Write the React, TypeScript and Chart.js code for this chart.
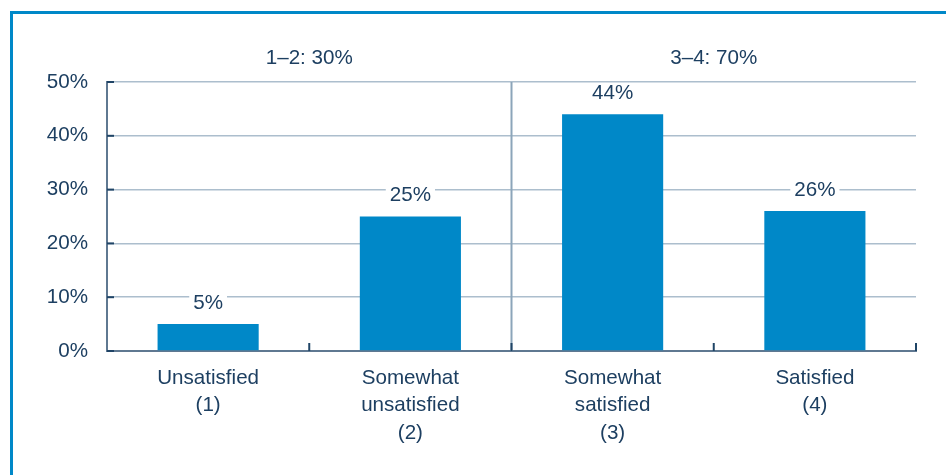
import React, { useEffect, useRef } from "react";
import { Chart, registerables } from "chart.js";

Chart.register(...registerables);

const categories: string[][] = [
  ["Unsatisfied", "(1)"],
  ["Somewhat", "unsatisfied", "(2)"],
  ["Somewhat", "satisfied", "(3)"],
  ["Satisfied", "(4)"],
];
const values: number[] = [5, 25, 44, 26];
const yMin = 0;
const yMax = 50;
const yStep = 10;
const groupLabels: string[] = ["1–2: 30%", "3–4: 70%"];
const groupRanges: number[][] = [
  [0, 1],
  [2, 3],
];

const FONT = "'Liberation Sans', Arial, Helvetica, sans-serif";
const FS = 20.6;
const TEXT = "#1d3f61";
const BAR = "rgb(0,136,200)";
const GRID = "rgb(172,190,205)";
const AXIS = "rgb(95,120,145)";
const TICK = "#1f4466";
const DIVIDER = "rgb(140,165,186)";

const overlay = {
  id: "overlay",
  beforeDatasetsDraw(chart: any) {
    const { ctx, chartArea, scales } = chart;
    const x = scales.x;
    ctx.save();
    for (let g = 0; g < groupRanges.length - 1; g++) {
      const a = groupRanges[g][1];
      const px = (x.getPixelForValue(a) + x.getPixelForValue(a + 1)) / 2;
      ctx.strokeStyle = DIVIDER;
      ctx.lineWidth = 2;
      ctx.beginPath();
      ctx.moveTo(px, chartArea.top);
      ctx.lineTo(px, chartArea.bottom);
      ctx.stroke();
    }
    ctx.restore();
  },
  afterDatasetsDraw(chart: any) {
    const { ctx, chartArea, scales } = chart;
    const x = scales.x;
    const y = scales.y;
    ctx.save();
    // frame
    ctx.fillStyle = BAR;
    ctx.fillRect(10, 11, 3, chart.height);
    ctx.fillRect(10, 11, chart.width, 3);

    // y inward ticks
    ctx.strokeStyle = TICK;
    ctx.lineWidth = 2;
    for (let v = yMin; v <= yMax; v += yStep) {
      const py = y.getPixelForValue(v);
      ctx.beginPath();
      ctx.moveTo(chartArea.left, py);
      ctx.lineTo(chartArea.left + 7, py);
      ctx.stroke();
    }
    // x inward ticks at category boundaries
    const n = categories.length;
    const step = x.getPixelForValue(1) - x.getPixelForValue(0);
    for (let i = 0; i < n; i++) {
      const px = x.getPixelForValue(i) + step / 2;
      ctx.beginPath();
      ctx.moveTo(px, chartArea.bottom);
      ctx.lineTo(px, chartArea.bottom - 8);
      ctx.stroke();
    }

    // group headers
    ctx.fillStyle = TEXT;
    ctx.font = `${FS}px ${FONT}`;
    ctx.textAlign = "center";
    ctx.textBaseline = "middle";
    groupLabels.forEach((lab, g) => {
      const left = x.getPixelForValue(groupRanges[g][0]) - step / 2;
      const right = x.getPixelForValue(groupRanges[g][1]) + step / 2;
      ctx.fillText(lab, (left + right) / 2, 58);
    });

    // value labels with white background
    const meta = chart.getDatasetMeta(0);
    meta.data.forEach((bar: any, i: number) => {
      const text = `${values[i]}%`;
      const cy = bar.y - 21;
      const w = ctx.measureText(text).width;
      ctx.fillStyle = "#ffffff";
      ctx.fillRect(bar.x - w / 2 - 4, cy - 10, w + 8, 20);
      ctx.fillStyle = TEXT;
      ctx.fillText(text, bar.x, cy);
    });
    ctx.restore();
  },
};

export default function App() {
  const ref = useRef<HTMLCanvasElement | null>(null);
  useEffect(() => {
    if (!ref.current) return;
    const chart = new Chart(ref.current, {
      type: "bar",
      data: {
        labels: categories,
        datasets: [
          {
            data: values,
            backgroundColor: BAR,
            borderWidth: 0,
            barPercentage: 0.5,
            categoryPercentage: 1,
          },
        ],
      },
      options: {
        responsive: false,
        animation: false,
        events: [],
        layout: { padding: { top: 82, right: 30, left: 0, bottom: 0 } },
        plugins: {
          legend: { display: false },
          tooltip: { enabled: false },
          title: { display: false },
        },
        scales: {
          x: {
            offset: true,
            grid: { display: false, drawTicks: false },
            border: { display: true, color: AXIS, width: 2 },
            ticks: {
              color: TEXT,
              font: { family: FONT, size: FS, lineHeight: 1.32 },
              padding: 14,
              maxRotation: 0,
              autoSkip: false,
            },
            afterFit: (s: any) => {
              s.height = 124;
            },
          },
          y: {
            min: yMin,
            max: yMax,
            grid: { color: GRID, lineWidth: 1.5, drawTicks: false },
            border: { display: true, color: AXIS, width: 2 },
            ticks: {
              stepSize: yStep,
              color: TEXT,
              font: { family: FONT, size: FS },
              padding: 19,
              callback: (v: any) => `${v}%`,
            },
            afterFit: (s: any) => {
              s.width = 107;
            },
          },
        },
      },
      plugins: [overlay],
    });
    return () => chart.destroy();
  }, []);
  return (
    <div style={{ position: "absolute", left: 0, top: 0, width: 946, height: 475, overflow: "hidden", background: "#fff" }}>
      <canvas ref={ref} width={946} height={475} style={{ display: "block" }} />
    </div>
  );
}
